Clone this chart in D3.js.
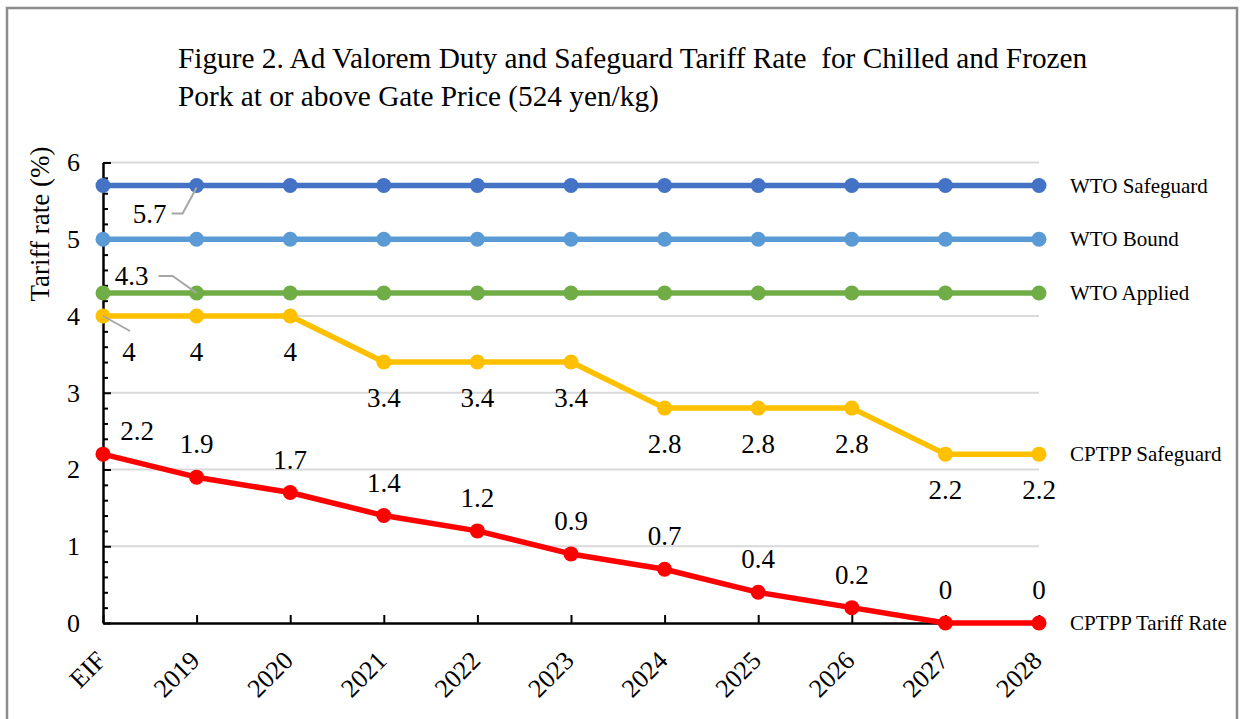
<!DOCTYPE html>
<html>
<head>
<meta charset="utf-8">
<script src="https://cdn.jsdelivr.net/npm/d3@7"></script>
<style>
  body { margin: 0; background: #fff; }
  text { font-family: "Liberation Serif", "Times New Roman", serif; fill: #000; }
</style>
</head>
<body>
<script>
// categories and series
let years = ["EIF","2019","2020","2021","2022","2023","2024","2025","2026","2027","2028"];
let wtoSafeguard = [5.7,5.7,5.7,5.7,5.7,5.7,5.7,5.7,5.7,5.7,5.7];
let wtoBound = [5,5,5,5,5,5,5,5,5,5,5];
let wtoApplied = [4.3,4.3,4.3,4.3,4.3,4.3,4.3,4.3,4.3,4.3,4.3];
let cptppSafeguard = [4,4,4,3.4,3.4,3.4,2.8,2.8,2.8,2.2,2.2];
let cptppTariff = [2.2,1.9,1.7,1.4,1.2,0.9,0.7,0.4,0.2,0,0];
let yTicks = [0,1,2,3,4,5,6];
let titleLines = ["Figure 2. Ad Valorem Duty and Safeguard Tariff Rate  for Chilled and Frozen",
                  "Pork at or above Gate Price (524 yen/kg)"];

let width = 1241, height = 719;
let svg = d3.select('body').append('svg')
    .attr('width', width)
    .attr('height', height);

// frame
svg.append('path')
    .attr('d', 'M7,730 L7,8 L1237,8 L1237,730')
    .attr('fill', 'none')
    .attr('stroke', '#8c8c8c')
    .attr('stroke-width', 2.5);

// title
svg.selectAll('text.title')
    .data(titleLines)
    .enter()
    .append('text')
    .attr('class', 'title')
    .attr('x', 178)
    .attr('y', (d, i) => 68 + i * 38)
    .style('font-size', '29.3px')
    .style('white-space', 'pre')
    .text(d => d);

let x = d3.scalePoint().domain(years).range([103, 1039]);
let y = d3.scaleLinear().domain([0, 6]).range([623, 162.5]);

// gridlines
svg.append('g')
    .selectAll('line')
    .data(yTicks.filter(d => d > 0))
    .enter()
    .append('line')
    .attr('x1', x.range()[0]).attr('x2', x.range()[1])
    .attr('y1', d => y(d)).attr('y2', d => y(d))
    .attr('stroke', '#d9d9d9')
    .attr('stroke-width', 2);

// y axis, minor ticks every 0.2
let minor = d3.range(1, 30).map(d => d / 5).filter(d => Math.abs(d - Math.round(d)) > 1e-6);
svg.append('g')
    .attr('transform', `translate(${x.range()[0]},0)`)
    .call(d3.axisLeft(y).tickValues(minor).tickSizeInner(-5).tickSizeOuter(0).tickFormat(''))
    .call(g => g.select('.domain').remove())
    .call(g => g.selectAll('line').attr('stroke', '#000').attr('stroke-width', 2));

let axisY = d3.axisLeft(y).tickValues(yTicks).tickSizeInner(-8).tickSizeOuter(0).tickPadding(23).tickFormat(d3.format('d'));
svg.append('g')
    .attr('transform', `translate(${x.range()[0]},0)`)
    .call(axisY)
    .call(g => g.select('.domain').attr('stroke', '#000').attr('stroke-width', 2.5))
    .call(g => g.selectAll('line').attr('stroke', '#000').attr('stroke-width', 2))
    .call(g => g.selectAll('text').style('font-size', '26px').attr('font-family', null));

// x axis
let axisX = d3.axisBottom(x).tickSizeInner(-8).tickSizeOuter(0);
svg.append('g')
    .attr('transform', `translate(0,${y(0)})`)
    .call(axisX)
    .call(g => g.select('.domain').attr('stroke', '#000').attr('stroke-width', 2.5))
    .call(g => g.selectAll('line').attr('stroke', '#000').attr('stroke-width', 2))
    .call(g => g.selectAll('text')
        .attr('x', 0).attr('y', 0).attr('dy', 0)
        .attr('transform', 'translate(4,39) rotate(-45)')
        .attr('text-anchor', 'end')
        .attr('font-family', null)
        .style('font-size', '26px'));

// axis title
svg.append('text')
    .attr('transform', 'translate(49,224) rotate(-90)')
    .attr('text-anchor', 'middle')
    .style('font-size', '27px')
    .text('Tariff rate (%)');

let series = [
  {name: 'WTO Safeguard', values: wtoSafeguard, color: '#4472c4'},
  {name: 'WTO Bound', values: wtoBound, color: '#5b9bd5'},
  {name: 'WTO Applied', values: wtoApplied, color: '#70ad47'},
  {name: 'CPTPP Safeguard', values: cptppSafeguard, color: '#ffc000'},
  {name: 'CPTPP Tariff Rate', values: cptppTariff, color: '#ff0000'}
];

let line = d3.line().x((d, i) => x(years[i])).y(d => y(d));

series.forEach(function(s) {
  let g = svg.append('g');
  g.append('path')
      .datum(s.values)
      .attr('d', line)
      .attr('fill', 'none')
      .attr('stroke', s.color)
      .attr('stroke-width', 5.5)
      .attr('stroke-linejoin', 'round');
  g.selectAll('circle')
      .data(s.values)
      .enter()
      .append('circle')
      .attr('cx', (d, i) => x(years[i]))
      .attr('cy', d => y(d))
      .attr('r', 7.5)
      .attr('fill', s.color);
  // series name at the right end
  let last = s.values[s.values.length - 1];
  svg.append('text')
      .attr('x', x(years[years.length - 1]) + 31)
      .attr('y', y(last) + 7)
      .style('font-size', '21px')
      .text(s.name);
});

// leader lines
let leader = svg.append('g').attr('fill', 'none').attr('stroke', '#a6a6a6').attr('stroke-width', 2);
let p19 = x('2019');
leader.append('polyline')
    .attr('points', `${p19 - 25},${y(5.7) + 28} ${p19 - 14},${y(5.7) + 28} ${p19},${y(5.7) + 2}`);
leader.append('polyline')
    .attr('points', `${p19 - 38},${y(4.3) - 17} ${p19 - 24},${y(4.3) - 17} ${p19},${y(4.3)}`);
leader.append('polyline')
    .attr('points', `${x('EIF')},${y(4)} ${x('EIF') + 27},${y(4) + 15}`);

let lbl = svg.append('g').style('font-size', '27px').attr('text-anchor', 'middle');
lbl.append('text').attr('x', p19 - 47).attr('y', y(5.7) + 37).text('5.7');
lbl.append('text').attr('x', p19 - 65).attr('y', y(4.3) - 8).text('4.3');

// CPTPP Safeguard labels below points
lbl.selectAll('text.sg')
    .data(cptppSafeguard)
    .enter()
    .append('text')
    .attr('class', 'sg')
    .attr('x', (d, i) => x(years[i]) + (i === 0 ? 26 : 0))
    .attr('y', d => y(d) + 45)
    .text(d => d);

// CPTPP Tariff labels above points
lbl.selectAll('text.tr')
    .data(cptppTariff)
    .enter()
    .append('text')
    .attr('class', 'tr')
    .attr('x', (d, i) => x(years[i]) + (i === 0 ? 34 : 0))
    .attr('y', (d, i) => y(d) - (i === 0 ? 14 : 24))
    .text(d => d);
</script>
</body>
</html>
